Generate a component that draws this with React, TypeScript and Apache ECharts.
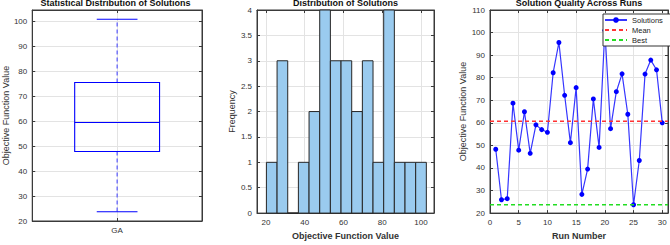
import React, { useEffect, useRef } from 'react';
import * as echarts from 'echarts';

// ---------- data ----------
const runs = [1, 2, 3, 4, 5, 6, 7, 8, 9, 10, 11, 12, 13, 14, 15, 16, 17, 18, 19, 20, 21, 22, 23, 24, 25, 26, 27, 28, 29, 30];
const solutions = [48.3, 25.9, 26.4, 68.7, 47.9, 64.9, 46.5, 59.1, 57.0, 55.8, 82.2, 95.6, 72.2, 51.2, 75.6, 28.3, 39.5, 70.6, 49.1, 101.0, 57.4, 73.8, 81.7, 63.8, 23.7, 43.3, 81.6, 87.8, 83.5, 60.0];
const meanValue = 60.7;
const bestValue = 23.7;

const boxCategories = ['GA'];
// min, Q1, median, Q3, max
const boxStats = [23.7, 47.9, 59.55, 75.6, 101.0];

const binEdges = [20.25, 25.75, 31.25, 36.75, 42.25, 47.75, 53.25, 58.75, 64.25, 69.75, 75.25, 80.75, 86.25, 91.75, 97.25, 102.75];
const binCounts = [1, 3, 0, 1, 2, 4, 3, 3, 2, 3, 1, 4, 1, 1, 1];

const boxYTicks = [20, 30, 40, 50, 60, 70, 80, 90, 100];
const histXTicks = [20, 40, 60, 80, 100];
const runXTicks = [0, 5, 10, 15, 20, 25, 30];

const titles = ['Statistical Distribution of Solutions', 'Distribution of Solutions', 'Solution Quality Across Runs'];

// ---------- style ----------
const FF = '"Liberation Sans", Arial, Helvetica, sans-serif';
const AX = '#3a3a3a';
const GRIDC = '#e3e3e3';
const TXT = '#333333';
const BLUE = '#0000ff';

const grids = [
  { left: 29, top: 10, width: 173, height: 211 },
  { left: 257, top: 10, width: 177, height: 211 },
  { left: 490, top: 10, width: 178, height: 211 },
];

function axis(extra: any, mirror = false) {
  const base: any = {
    axisLine: { show: true, onZero: false, lineStyle: { color: AX, width: 1 } },
    axisTick: { show: true, inside: true, length: 3, lineStyle: { color: AX, width: 1 } },
    axisLabel: { show: !mirror, color: TXT, fontSize: 8, fontFamily: FF, margin: 5 },
    splitLine: { show: !mirror, lineStyle: { color: GRIDC, width: 1 } },
    nameTextStyle: { color: TXT, fontSize: 9, fontFamily: FF },
  };
  const out: any = { ...base, ...extra };
  if (extra.axisTick) out.axisTick = { ...base.axisTick, ...extra.axisTick };
  if (extra.axisLabel) out.axisLabel = { ...base.axisLabel, ...extra.axisLabel, show: !mirror };
  if (extra.nameTextStyle) out.nameTextStyle = { ...base.nameTextStyle, ...extra.nameTextStyle };
  if (mirror) out.name = '';
  return out;
}

export default function App() {
  const ref = useRef<HTMLDivElement>(null);

  useEffect(() => {
    if (!ref.current) return;
    const chart = echarts.init(ref.current, null, { renderer: 'svg' });

    const boxX = {
      type: 'value', min: 0.5, max: 1.5,
      axisTick: { customValues: [1] },
      axisLabel: { customValues: [1], formatter: (v: number) => boxCategories[Math.round(v) - 1] || '' },
    };
    const boxY = {
      type: 'value', min: 20, max: 104.7,
      axisTick: { customValues: boxYTicks },
      axisLabel: { customValues: boxYTicks },
      name: 'Objective Function Value', nameLocation: 'middle', nameGap: 20,
    };
    const histX = {
      type: 'value', min: 15.4, max: 106.7,
      axisTick: { customValues: histXTicks },
      axisLabel: { customValues: histXTicks },
      name: 'Objective Function Value', nameLocation: 'middle', nameGap: 14,
      nameTextStyle: { fontWeight: 'bold' },
    };
    const histY = {
      type: 'value', min: 0, max: 4, interval: 0.5,
      name: 'Frequency', nameLocation: 'middle', nameGap: 17,
    };
    const runX = {
      type: 'value', min: 0, max: 31,
      axisTick: { customValues: runXTicks },
      axisLabel: { customValues: runXTicks },
      name: 'Run Number', nameLocation: 'middle', nameGap: 14,
      nameTextStyle: { fontWeight: 'bold' },
    };
    const runY = {
      type: 'value', min: 20, max: 110, interval: 10,
      name: 'Objective Function Value', nameLocation: 'middle', nameGap: 19,
    };

    const hiddenSymbol = { color: 'rgba(0,0,0,0)', opacity: 0, borderWidth: 0 };

    const option: any = {
      animation: false,
      backgroundColor: '#ffffff',
      textStyle: { fontFamily: FF },
      title: titles.map((t, i) => ({
        text: t,
        left: grids[i].left + grids[i].width / 2,
        textAlign: 'center',
        top: -2,
        padding: 0,
        textStyle: { fontSize: 9, fontWeight: 'bold', color: '#111', fontFamily: FF },
      })),
      grid: grids.map((g) => ({ ...g, show: true, borderColor: AX, borderWidth: 1, backgroundColor: '#fff', containLabel: false })),
      xAxis: [
        axis({ ...boxX, gridIndex: 0, position: 'bottom' }),
        axis({ ...boxX, gridIndex: 0, position: 'top' }, true),
        axis({ ...histX, gridIndex: 1, position: 'bottom' }),
        axis({ ...histX, gridIndex: 1, position: 'top' }, true),
        axis({ ...runX, gridIndex: 2, position: 'bottom' }),
        axis({ ...runX, gridIndex: 2, position: 'top' }, true),
      ],
      yAxis: [
        axis({ ...boxY, gridIndex: 0, position: 'left' }),
        axis({ ...boxY, gridIndex: 0, position: 'right' }, true),
        axis({ ...histY, gridIndex: 1, position: 'left' }),
        axis({ ...histY, gridIndex: 1, position: 'right' }, true),
        axis({ ...runY, gridIndex: 2, position: 'left' }),
        axis({ ...runY, gridIndex: 2, position: 'right' }, true),
      ],
      legend: {
        data: [
          { name: 'Solutions' },
          { name: 'Mean', itemStyle: hiddenSymbol },
          { name: 'Best', itemStyle: hiddenSymbol },
        ],
        orient: 'vertical',
        left: 603,
        top: 14,
        padding: [2, 8, 2, 1],
        itemWidth: 22,
        itemHeight: 7,
        itemGap: 2,
        borderColor: '#333',
        borderWidth: 1,
        backgroundColor: '#fff',
        textStyle: { fontSize: 7.5, color: '#222', fontFamily: FF },
      },
      series: [
        {
          type: 'custom',
          xAxisIndex: 0,
          yAxisIndex: 0,
          data: [[1, ...boxStats]],
          renderItem: (_p: any, api: any) => {
            const x = api.value(0);
            const mn = api.value(1), q1 = api.value(2), md = api.value(3), q3 = api.value(4), mx = api.value(5);
            const hb = 0.25, hc = 0.12;
            const c = api.coord([x, md]);
            const bl = api.coord([x - hb, q3]);
            const br = api.coord([x + hb, q1]);
            const yMin = api.coord([x, mn])[1];
            const yMax = api.coord([x, mx])[1];
            const cl = api.coord([x - hc, mn])[0];
            const cr = api.coord([x + hc, mn])[0];
            const solid = { stroke: BLUE, lineWidth: 1.1, fill: 'none' };
            const dashed = { stroke: '#3a3aff', lineWidth: 1, lineDash: [4, 3], fill: 'none' };
            return {
              type: 'group',
              children: [
                { type: 'line', shape: { x1: c[0], y1: bl[1], x2: c[0], y2: yMax }, style: dashed },
                { type: 'line', shape: { x1: c[0], y1: br[1], x2: c[0], y2: yMin }, style: dashed },
                { type: 'line', shape: { x1: cl, y1: yMax, x2: cr, y2: yMax }, style: solid },
                { type: 'line', shape: { x1: cl, y1: yMin, x2: cr, y2: yMin }, style: solid },
                { type: 'rect', shape: { x: bl[0], y: bl[1], width: br[0] - bl[0], height: br[1] - bl[1] }, style: solid },
                { type: 'line', shape: { x1: bl[0], y1: c[1], x2: br[0], y2: c[1] }, style: solid },
              ],
            };
          },
        },
        {
          type: 'custom',
          xAxisIndex: 2,
          yAxisIndex: 2,
          data: binCounts.map((cnt, i) => [binEdges[i], binEdges[i + 1], cnt]),
          renderItem: (_p: any, api: any) => {
            const a = api.coord([api.value(0), api.value(2)]);
            const b = api.coord([api.value(1), 0]);
            return {
              type: 'rect',
              shape: { x: a[0], y: a[1], width: b[0] - a[0], height: b[1] - a[1] },
              style: { fill: '#9acbef', stroke: '#262626', lineWidth: 1 },
            };
          },
        },
        {
          name: 'Solutions',
          type: 'line',
          xAxisIndex: 4,
          yAxisIndex: 4,
          data: runs.map((r, i) => [r, solutions[i]]),
          symbol: 'circle',
          symbolSize: 5,
          showSymbol: true,
          itemStyle: { color: BLUE },
          lineStyle: { color: '#3535ff', width: 1.2 },
          z: 3,
        },
        {
          name: 'Mean',
          type: 'line',
          xAxisIndex: 4,
          yAxisIndex: 4,
          data: [[0, meanValue], [31, meanValue]],
          symbol: 'none',
          itemStyle: { color: '#ff3333' },
          lineStyle: { color: '#ff3333', width: 1.3, type: [4, 3] },
          z: 4,
        },
        {
          name: 'Best',
          type: 'line',
          xAxisIndex: 4,
          yAxisIndex: 4,
          data: [[0, bestValue], [31, bestValue]],
          symbol: 'none',
          itemStyle: { color: '#22dd22' },
          lineStyle: { color: '#22dd22', width: 1.3, type: [4, 3] },
          z: 4,
        },
      ],
    };

    chart.setOption(option);
    return () => chart.dispose();
  }, []);

  return <div ref={ref} style={{ position: 'fixed', left: 0, top: 0, width: 670, height: 245 }} />;
}
